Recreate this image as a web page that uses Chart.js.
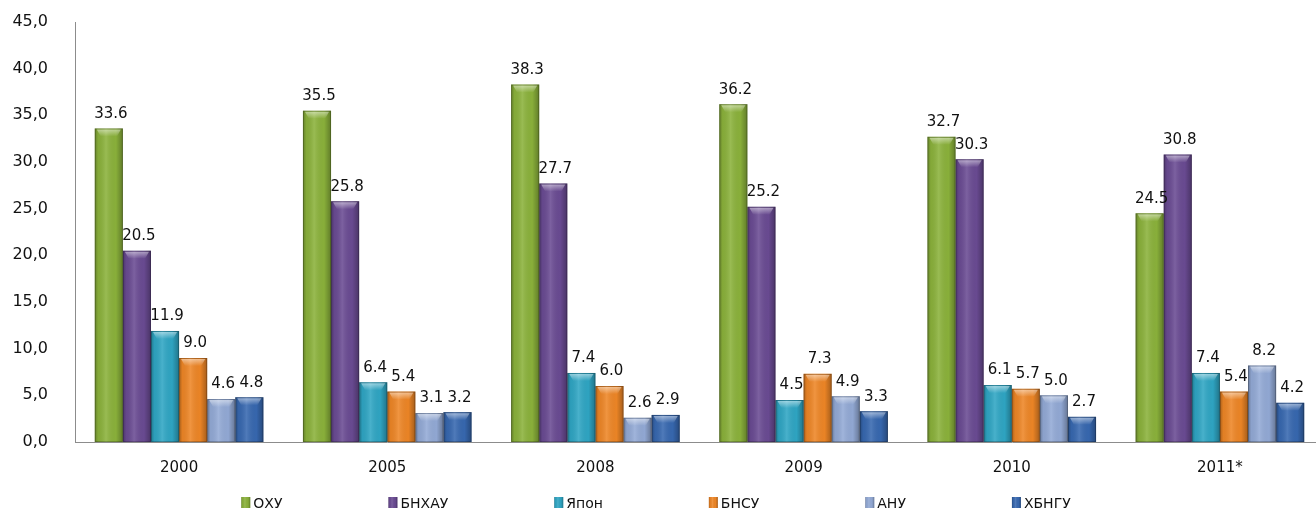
<!DOCTYPE html>
<html>
<head>
<meta charset="utf-8">
<script src="https://cdn.jsdelivr.net/npm/chart.js@4.4.1/dist/chart.umd.min.js"></script>
<style>
html,body{margin:0;padding:0;background:#fff;overflow:hidden;}
#wrap{width:1324px;height:512px;}
</style>
</head>
<body>
<div id="wrap"><canvas id="c" width="1324" height="512"></canvas></div>
<script>
const categories = ['2000', '2005', '2008', '2009', '2010', '2011*'];
const seriesNames = ['ОХУ', 'БНХАУ', 'Япон', 'БНСУ', 'АНУ', 'ХБНГУ'];
const ohu    = [33.6, 35.5, 38.3, 36.2, 32.7, 24.5];
const bnhau  = [20.5, 25.8, 27.7, 25.2, 30.3, 30.8];
const yapon  = [11.9, 6.4, 7.4, 4.5, 6.1, 7.4];
const bnsu   = [9.0, 5.4, 6.0, 7.3, 5.7, 5.4];
const anu    = [4.6, 3.1, 2.6, 4.9, 5.0, 8.2];
const hbngu  = [4.8, 3.2, 2.9, 3.3, 2.7, 4.2];
const yTicks = [0, 5, 10, 15, 20, 25, 30, 35, 40, 45];

const colors = ['#8bb23b', '#6a4b93', '#2fa6c4', '#ee8626', '#93aad6', '#3768b0'];
const seriesValues = [ohu, bnhau, yapon, bnsu, anu, hbngu];

const FONT = '"DejaVu Sans", Verdana, sans-serif';

function shadeBar(ctx, x0, x1, top, bottom) {
  const g = ctx.createLinearGradient(x0, 0, x1, 0);
  g.addColorStop(0, 'rgba(0,0,0,0.28)');
  g.addColorStop(0.12, 'rgba(0,0,0,0.05)');
  g.addColorStop(0.4, 'rgba(255,255,255,0.12)');
  g.addColorStop(0.75, 'rgba(0,0,0,0.02)');
  g.addColorStop(1, 'rgba(0,0,0,0.3)');
  ctx.fillStyle = g;
  ctx.fillRect(x0, top, x1 - x0, bottom - top);
}

const decoPlugin = {
  id: 'deco',
  afterDatasetsDraw(chart) {
    const ctx = chart.ctx;
    ctx.save();
    chart.data.datasets.forEach((ds, di) => {
      const meta = chart.getDatasetMeta(di);
      meta.data.forEach(el => {
        const x0 = el.x - el.width / 2, x1 = el.x + el.width / 2;
        shadeBar(ctx, x0, x1, el.y, el.base);
        const capH = Math.min(8, el.base - el.y);
        const vg = ctx.createLinearGradient(0, el.y, 0, el.y + capH);
        vg.addColorStop(0, 'rgba(255,255,255,0.55)');
        vg.addColorStop(1, 'rgba(255,255,255,0)');
        ctx.fillStyle = vg;
        ctx.beginPath();
        ctx.moveTo(x0 + 2, el.y + 1);
        ctx.lineTo(x1 - 2, el.y + 1);
        ctx.lineTo(x1 - 6, el.y + capH);
        ctx.lineTo(x0 + 6, el.y + capH);
        ctx.closePath();
        ctx.fill();
        ctx.strokeStyle = 'rgba(0,0,0,0.22)';
        ctx.lineWidth = 1;
        ctx.strokeRect(x0 + 0.5, el.y + 0.5, el.width - 1, el.base - el.y - 1);
      });
    });
    ctx.fillStyle = '#111';
    ctx.font = '15px ' + FONT;
    ctx.textAlign = 'center';
    ctx.textBaseline = 'bottom';
    chart.data.datasets.forEach((ds, di) => {
      const meta = chart.getDatasetMeta(di);
      meta.data.forEach((el, i) => {
        ctx.fillText(ds.data[i].toFixed(1), el.x + 2, el.y - 7);
      });
    });
    ctx.restore();
  },
  afterDraw(chart) {
    const ctx = chart.ctx;
    ctx.save();
    ctx.font = '14px ' + FONT;
    ctx.textBaseline = 'middle';
    ctx.textAlign = 'left';
    const box = 9, gapText = 3, gapItem = 106;
    const widths = chart.data.datasets.map(ds => box + gapText + ctx.measureText(ds.label).width);
    const total = widths.reduce((a, b) => a + b, 0) + gapItem * (widths.length - 1);
    let x = 656 - total / 2;
    const y = 503;
    chart.data.datasets.forEach((ds, di) => {
      ctx.fillStyle = ds.backgroundColor;
      ctx.fillRect(x, y - 6, box, 11);
      shadeBar(ctx, x, x + box, y - 6, y + 5);
      ctx.fillStyle = '#111';
      ctx.fillText(ds.label, x + box + gapText, y + 1);
      x += widths[di] + gapItem;
    });
    ctx.restore();
  }
};

new Chart(document.getElementById('c'), {
  type: 'bar',
  data: {
    labels: categories,
    datasets: seriesNames.map((name, i) => ({
      label: name,
      data: seriesValues[i],
      backgroundColor: colors[i],
      borderWidth: 0,
      categoryPercentage: 0.81,
      barPercentage: 1.0
    }))
  },
  options: {
    responsive: false,
    animation: false,
    layout: { padding: { top: 22, right: 0, bottom: 0, left: 0 } },
    plugins: {
      legend: { display: false },
      tooltip: { enabled: false }
    },
    scales: {
      x: {
        grid: { display: false, drawTicks: false },
        border: { display: true, color: '#8c8c8c', width: 1 },
        ticks: { color: '#111', font: { family: FONT, size: 15 }, padding: 17 },
        afterFit(s) { s.height = 70; s.paddingLeft = 0; s.paddingRight = 0; }
      },
      y: {
        min: 0, max: 45,
        afterBuildTicks(s) { s.ticks = yTicks.map(v => ({ value: v })); },
        grid: { display: false, drawTicks: false },
        border: { display: true, color: '#8c8c8c', width: 1 },
        ticks: {
          color: '#111', font: { family: FONT, size: 16 }, padding: 27,
          callback: v => v.toFixed(1).replace('.', ',')
        },
        afterFit(s) { s.width = 75; s.paddingTop = 0; s.paddingBottom = 0; }
      }
    }
  },
  plugins: [decoPlugin]
});
</script>
</body>
</html>
